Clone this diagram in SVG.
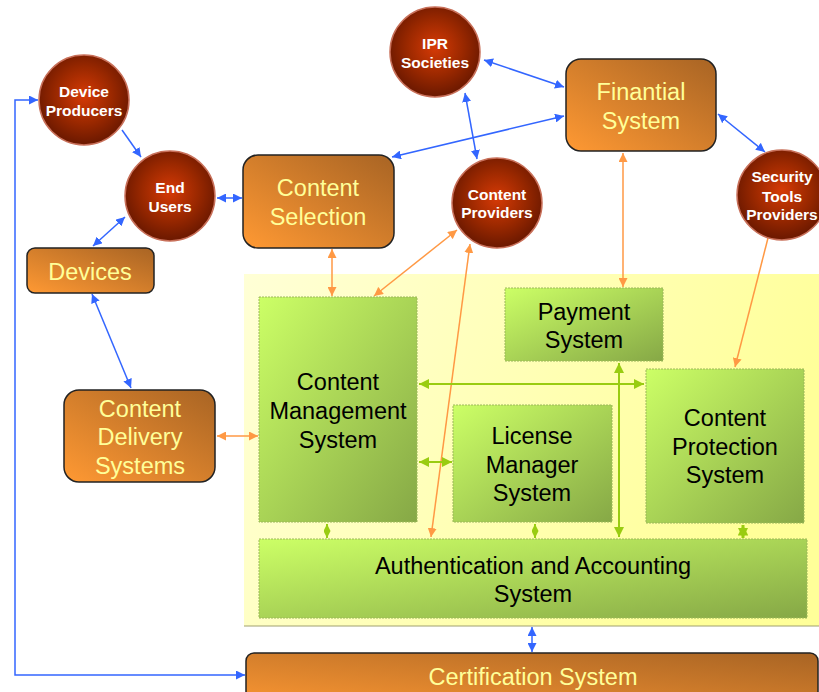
<svg xmlns="http://www.w3.org/2000/svg" width="819" height="692" viewBox="0 0 819 692">
<style>
.c text{font-family:"Liberation Sans",Arial,sans-serif;font-weight:bold;font-size:15.5px;fill:#fff;text-anchor:middle}
.o text{font-family:"Liberation Sans",Arial,sans-serif;font-size:23.5px;fill:#FFFF99;text-anchor:middle}
.g text{font-family:"Liberation Sans",Arial,sans-serif;font-size:23.5px;fill:#000;text-anchor:middle}
.cc{fill:url(#rg);stroke:#C8705A;stroke-width:1.5}
.ob{fill:url(#og);stroke:#222;stroke-width:1.5}
.gb{fill:url(#gg);stroke:#9CB85A;stroke-width:1;stroke-dasharray:2 1}
.bl{stroke:#3366FF;stroke-width:1.5;fill:none;marker-start:url(#mb);marker-end:url(#mb)}
.or{stroke:#FF9944;stroke-width:1.5;fill:none;marker-start:url(#mo);marker-end:url(#mo)}
.gr{stroke:#99CC11;stroke-width:2;fill:none;marker-start:url(#mg);marker-end:url(#mg)}
.gs{stroke:#99CC11;stroke-width:2;fill:none;marker-start:url(#ms);marker-end:url(#ms)}
</style>
<defs>
<radialGradient id="rg" cx="0.5" cy="0.45" r="0.52">
<stop offset="0" stop-color="#D63A06"/>
<stop offset="0.6" stop-color="#9A2800"/>
<stop offset="1" stop-color="#701A00"/>
</radialGradient>
<linearGradient id="og" x1="0" y1="1" x2="1" y2="0">
<stop offset="0" stop-color="#FF9933"/>
<stop offset="1" stop-color="#A86424"/>
</linearGradient>
<linearGradient id="gg" x1="0" y1="0" x2="1" y2="1">
<stop offset="0" stop-color="#CCFF66"/>
<stop offset="1" stop-color="#86A846"/>
</linearGradient>
<linearGradient id="yg" x1="0" y1="0" x2="1" y2="0.3">
<stop offset="0" stop-color="#FFFFD6"/>
<stop offset="1" stop-color="#FFFF99"/>
</linearGradient>
<marker id="mb" viewBox="0 0 10 10" refX="10" refY="5" markerWidth="6" markerHeight="6" orient="auto-start-reverse" markerUnits="strokeWidth"><path d="M0,0 L10,5 L0,10 z" fill="#3366FF"/></marker>
<marker id="mo" viewBox="0 0 10 10" refX="10" refY="5" markerWidth="6" markerHeight="6" orient="auto-start-reverse" markerUnits="strokeWidth"><path d="M0,0 L10,5 L0,10 z" fill="#FF9944"/></marker>
<marker id="mg" viewBox="0 0 10 10" refX="10" refY="5" markerWidth="5" markerHeight="5" orient="auto-start-reverse" markerUnits="strokeWidth"><path d="M0,0 L10,5 L0,10 z" fill="#99CC11"/></marker>
<marker id="ms" viewBox="0 0 10 10" refX="10" refY="5" markerWidth="3.5" markerHeight="3.5" orient="auto-start-reverse" markerUnits="strokeWidth"><path d="M0,0 L10,5 L0,10 z" fill="#99CC11"/></marker>
</defs>

<g id="background">
<rect x="244" y="274" width="575" height="352" fill="url(#yg)"/>
<line x1="244" y1="626" x2="819" y2="626" stroke="#A0A070" stroke-width="1"/>
</g>

<g id="connectors">
<polyline class="bl" points="38,100 15,100 15,675 245,675"/>
<line class="bl" x1="122" y1="130" x2="141" y2="157" style="marker-start:none"/>
<line class="bl" x1="217" y1="198" x2="242" y2="198"/>
<line class="bl" x1="125" y1="217" x2="93" y2="246"/>
<line class="bl" x1="92" y1="294" x2="131" y2="388"/>
<line class="bl" x1="484" y1="60" x2="564" y2="87"/>
<line class="bl" x1="465" y1="93" x2="477" y2="159"/>
<line class="bl" x1="564" y1="116" x2="392" y2="157"/>
<line class="bl" x1="718" y1="114" x2="765" y2="152"/>
<line class="bl" x1="532" y1="627" x2="532" y2="652"/>
<line class="or" x1="332" y1="249" x2="332" y2="296"/>
<line class="or" x1="457" y1="230" x2="374" y2="296"/>
<line class="or" x1="470" y1="244" x2="431" y2="537"/>
<line class="or" x1="623" y1="153" x2="623" y2="287"/>
<line class="or" x1="768" y1="238" x2="735" y2="367" style="marker-start:none"/>
<line class="or" x1="217" y1="436" x2="258" y2="436"/>
<line class="gr" x1="419" y1="384" x2="644" y2="384"/>
<line class="gr" x1="619" y1="363" x2="619" y2="537"/>
<line class="gr" x1="419" y1="462" x2="452" y2="462"/>
<line class="gs" x1="327" y1="524" x2="327" y2="538"/>
<line class="gs" x1="535" y1="524" x2="535" y2="538"/>
<line class="gs" x1="743" y1="525" x2="743" y2="538" style="stroke-width:3"/>
</g>

<g id="device-producers" class="c"><circle class="cc" cx="84" cy="100" r="45"/><text x="84" y="97">Device</text><text x="84" y="116">Producers</text></g>
<g id="end-users" class="c"><circle class="cc" cx="170" cy="196" r="45"/><text x="170" y="193">End</text><text x="170" y="212">Users</text></g>
<g id="ipr-societies" class="c"><circle class="cc" cx="435" cy="52" r="45"/><text x="435" y="49">IPR</text><text x="435" y="68">Societies</text></g>
<g id="content-providers" class="c"><circle class="cc" cx="497" cy="203" r="45"/><text x="497" y="200">Content</text><text x="497" y="218">Providers</text></g>
<g id="security-tools-providers" class="c"><circle class="cc" cx="782" cy="195" r="45"/><text x="782" y="182">Security</text><text x="782" y="202">Tools</text><text x="782" y="220">Providers</text></g>

<g id="finantial-system" class="o"><rect class="ob" x="566" y="59" width="150" height="92" rx="15"/><text x="641" y="100">Finantial</text><text x="641" y="129">System</text></g>
<g id="content-selection" class="o"><rect class="ob" x="243" y="155" width="151" height="93" rx="15"/><text x="318" y="196">Content</text><text x="318" y="225">Selection</text></g>
<g id="devices" class="o"><rect class="ob" x="27" y="248" width="127" height="45" rx="8"/><text x="90" y="280">Devices</text></g>
<g id="content-delivery-systems" class="o"><rect class="ob" x="64" y="390" width="151" height="92" rx="15"/><text x="140" y="417">Content</text><text x="140" y="445">Delivery</text><text x="140" y="474">Systems</text></g>
<g id="certification-system" class="o"><rect class="ob" x="246" y="653" width="572" height="60" rx="8"/><text x="533" y="685">Certification System</text></g>

<g id="content-management-system" class="g"><rect class="gb" x="259" y="297" width="158" height="225"/><text x="338" y="390">Content</text><text x="338" y="419">Management</text><text x="338" y="448">System</text></g>
<g id="payment-system" class="g"><rect class="gb" x="505" y="288" width="158" height="73"/><text x="584" y="320">Payment</text><text x="584" y="348">System</text></g>
<g id="license-manager-system" class="g"><rect class="gb" x="453" y="405" width="159" height="117"/><text x="532" y="444">License</text><text x="532" y="473">Manager</text><text x="532" y="501">System</text></g>
<g id="content-protection-system" class="g"><rect class="gb" x="646" y="369" width="158" height="154"/><text x="725" y="426">Content</text><text x="725" y="455">Protection</text><text x="725" y="483">System</text></g>
<g id="authentication-accounting-system" class="g"><rect class="gb" x="259" y="539" width="548" height="79"/><text x="533" y="574">Authentication and Accounting</text><text x="533" y="602">System</text></g>
</svg>
